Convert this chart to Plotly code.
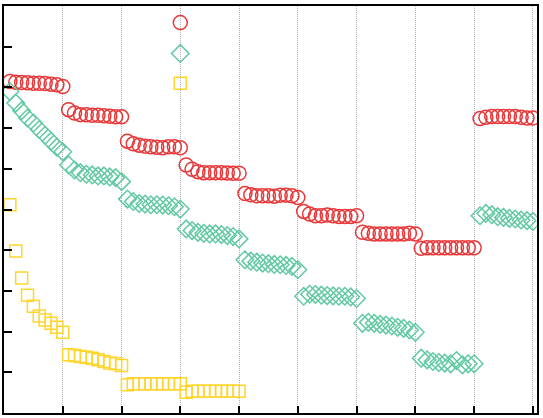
import plotly.graph_objects as go

# x positions: 9 groups of 10 points (1..90); one extra point per series at x=30
x_idx = list(range(1, 91))
x_extra = [30]

red_vals = [
    8.144, 8.127, 8.120, 8.112, 8.103, 8.103, 8.095, 8.078, 8.064, 8.022,
    7.453, 7.370, 7.331, 7.326, 7.314, 7.314, 7.306, 7.289, 7.277, 7.277,
    6.679, 6.613, 6.581, 6.557, 6.540, 6.532, 6.515, 6.540, 6.540, 6.515,
    6.093, 5.988, 5.929, 5.905, 5.905, 5.905, 5.905, 5.897, 5.890, 5.890,
    5.392, 5.360, 5.336, 5.336, 5.336, 5.328, 5.353, 5.353, 5.336, 5.294,
    4.952, 4.889, 4.847, 4.847, 4.864, 4.847, 4.830, 4.830, 4.830, 4.847,
    4.440, 4.415, 4.400, 4.400, 4.400, 4.400, 4.400, 4.400, 4.415, 4.400,
    4.049, 4.059, 4.059, 4.059, 4.059, 4.059, 4.059, 4.059, 4.059, 4.059,
    7.233, 7.265, 7.282, 7.282, 7.282, 7.282, 7.282, 7.265, 7.248, 7.248,
]
red_extra = [9.592]

green_vals = [
    7.900, 7.614, 7.429, 7.248, 7.126, 6.965, 6.825, 6.679, 6.532, 6.418,
    6.093, 5.971, 5.905, 5.866, 5.849, 5.824, 5.824, 5.800, 5.783, 5.685,
    5.255, 5.197, 5.148, 5.133, 5.116, 5.116, 5.109, 5.092, 5.067, 5.011,
    4.523, 4.481, 4.440, 4.415, 4.400, 4.400, 4.383, 4.359, 4.335, 4.278,
    3.766, 3.731, 3.707, 3.683, 3.668, 3.651, 3.643, 3.626, 3.602, 3.521,
    2.869, 2.918, 2.911, 2.894, 2.886, 2.877, 2.869, 2.869, 2.852, 2.813,
    2.203, 2.227, 2.203, 2.178, 2.161, 2.137, 2.105, 2.081, 2.039, 1.983,
    1.348, 1.306, 1.265, 1.241, 1.226, 1.209, 1.289, 1.184, 1.209, 1.209,
    4.847, 4.904, 4.872, 4.823, 4.806, 4.782, 4.767, 4.742, 4.725, 4.708,
]
green_extra = [8.835]

yellow_vals = [
    5.116, 3.980, 3.316, 2.894, 2.625, 2.381, 2.283, 2.203, 2.105, 1.983,
    1.429, 1.411, 1.387, 1.372, 1.348, 1.306, 1.265, 1.226, 1.209, 1.167,
    0.696, 0.720, 0.720, 0.720, 0.720, 0.720, 0.720, 0.720, 0.720, 0.720,
    0.508, 0.532, 0.532, 0.532, 0.532, 0.532, 0.532, 0.532, 0.532, 0.532,
]
yellow_extra = [8.103]

RED = "#E8383A"
GREEN = "#62C9A2"
YELLOW = "#FFD52E"

fig = go.Figure()

def add(xs, ys, sym, color, size):
    fig.add_trace(go.Scatter(
        x=xs, y=ys, mode="markers",
        marker=dict(symbol=sym, color=color, size=size, line=dict(width=1.5, color=color)),
        showlegend=False, hoverinfo="skip",
    ))

add(x_idx[:len(red_vals)] + x_extra, red_vals + red_extra, "circle-open", RED, 14)
add(x_idx[:len(green_vals)] + x_extra, green_vals + green_extra, "diamond-open", GREEN, 13.5)
add(x_idx[:len(yellow_vals)] + x_extra, yellow_vals + yellow_extra, "square-open", YELLOW, 12)

fig.update_layout(
    width=543, height=418,
    margin=dict(l=4, r=5, t=4, b=5),
    paper_bgcolor="white", plot_bgcolor="white",
    showlegend=False,
)
fig.update_xaxes(
    range=[0, 90.7], tick0=0, dtick=10,
    showgrid=True, gridcolor="#b0b0b0", gridwidth=1, griddash="1px,1px",
    showline=True, linecolor="black", linewidth=2, mirror=True,
    ticks="inside", ticklen=7, tickwidth=2, tickcolor="black",
    showticklabels=False, zeroline=False,
)
fig.update_yaxes(
    range=[0, 10], tick0=0, dtick=1,
    showgrid=False,
    showline=True, linecolor="black", linewidth=2, mirror=True,
    ticks="inside", ticklen=8, tickwidth=2, tickcolor="black",
    showticklabels=False, zeroline=False,
)

fig.write_html("out.html")
